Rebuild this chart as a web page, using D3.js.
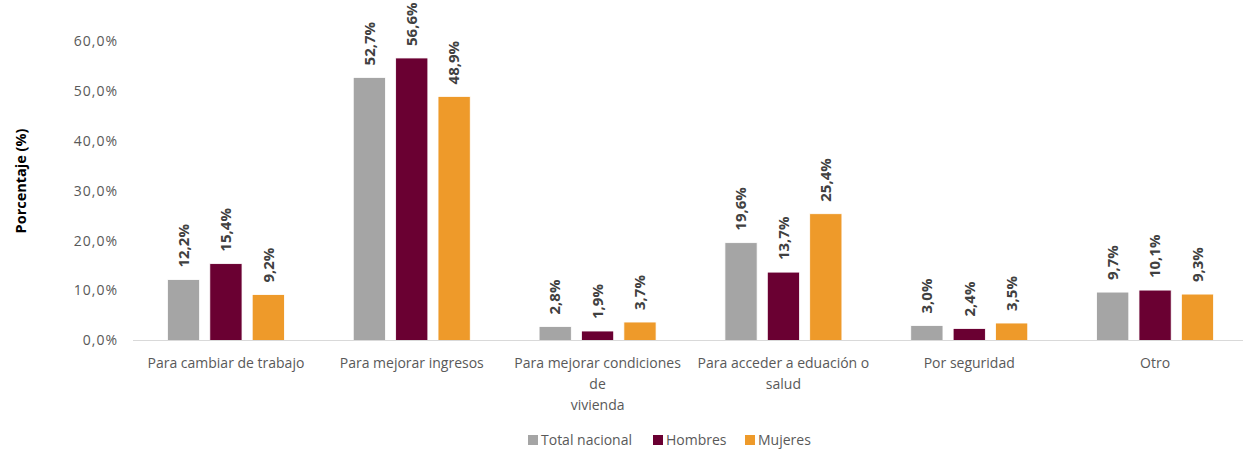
<!DOCTYPE html>
<html>
<head>
<meta charset="utf-8">
<script src="https://cdn.jsdelivr.net/npm/d3@7"></script>
<style>
  body { margin: 0; background: #fff; }
  svg { font-family: "Open Sans", "Noto Sans", sans-serif; }
</style>
</head>
<body>
<div id="vis"></div>
<script>
const categories = [
  ['Para cambiar de trabajo'],
  ['Para mejorar ingresos'],
  ['Para mejorar condiciones', 'de', 'vivienda'],
  ['Para acceder a eduación o', 'salud'],
  ['Por seguridad'],
  ['Otro']
];
const seriesNames = ['Total nacional', 'Hombres', 'Mujeres'];
const totalNacional = [12.2, 52.7, 2.8, 19.6, 3.0, 9.7];
const hombres = [15.4, 56.6, 1.9, 13.7, 2.4, 10.1];
const mujeres = [9.2, 48.9, 3.7, 25.4, 3.5, 9.3];
const yTicks = [0, 10, 20, 30, 40, 50, 60];
const colors = ['#A5A5A5', '#6A0032', '#EE9A2A'];

const width = 1243;
const height = 449;
const series = [totalNacional, hombres, mujeres];
const keys = categories.map(function (c) { return c.join(' '); });

const svg = d3.select('#vis')
  .append('svg')
    .attr('width', width)
    .attr('height', height);

const x0 = d3.scaleBand()
  .domain(keys)
  .range([133, 1248])
  .paddingInner(0);

const bw = x0.bandwidth();
const x1 = d3.scaleBand()
  .domain(seriesNames)
  .range([bw / 2 - 58.5, bw / 2 + 58.5])
  .paddingInner(0.24)
  .paddingOuter(0);

const y = d3.scaleLinear()
  .domain([0, 60])
  .range([340.5, 41]);

const fmt = function (v) { return d3.format('.1f')(v).replace('.', ',') + '%'; };

// y axis labels
svg.append('g')
  .selectAll('text')
  .data(yTicks)
  .join('text')
    .attr('x', 118)
    .attr('y', function (d) { return y(d); })
    .attr('dy', '0.35em')
    .attr('text-anchor', 'end')
    .attr('fill', '#595959')
    .attr('font-size', 14)
    .attr('letter-spacing', 1)
    .text(fmt);

svg.append('text')
  .attr('transform', 'translate(26, 181) rotate(-90)')
  .attr('text-anchor', 'middle')
  .attr('font-size', 14.5)
  .attr('font-weight', 'bold')
  .attr('fill', '#000')
  .text('Porcentaje (%)');

// bars
const groups = svg.append('g')
  .selectAll('g')
  .data(keys)
  .join('g')
    .attr('transform', function (d) { return 'translate(' + x0(d) + ',0)'; });

groups.each(function (k, i) {
  const g = d3.select(this);
  seriesNames.forEach(function (s, j) {
    const v = series[j][i];
    g.append('rect')
      .attr('x', x1(s))
      .attr('y', y(v))
      .attr('width', x1.bandwidth())
      .attr('height', y(0) - y(v))
      .attr('fill', colors[j])
      .attr('stroke', '#fff')
      .attr('stroke-width', 0.8);
    g.append('text')
      .attr('transform', 'translate(' + (x1(s) + x1.bandwidth() / 2) + ',' + (y(v) - 12) + ') rotate(-90)')
      .attr('dy', '0.35em')
      .attr('text-anchor', 'start')
      .attr('font-size', 15)
      .attr('font-weight', 'bold')
      .attr('fill', '#404040')
      .text(fmt(v));
  });
});

// baseline
svg.append('line')
  .attr('x1', 133)
  .attr('x2', 1248)
  .attr('y1', y(0))
  .attr('y2', y(0))
  .attr('stroke', '#D9D9D9')
  .attr('stroke-width', 1);

// category labels
groups.each(function (k, i) {
  const t = d3.select(this).append('text')
    .attr('text-anchor', 'middle')
    .attr('font-size', 14)
    .attr('fill', '#595959');
  categories[i].forEach(function (line, li) {
    t.append('tspan')
      .attr('x', bw / 2)
      .attr('y', 368 + li * 21)
      .text(line);
  });
});

// legend
const legendX = [528, 653, 745];
const legend = svg.append('g')
  .selectAll('g')
  .data(seriesNames)
  .join('g')
    .attr('transform', function (d, i) { return 'translate(' + legendX[i] + ',440)'; });

legend.append('rect')
  .attr('x', 0)
  .attr('y', -5)
  .attr('width', 10)
  .attr('height', 10)
  .attr('fill', function (d, i) { return colors[i]; });

legend.append('text')
  .attr('x', 13)
  .attr('dy', '0.35em')
  .attr('font-size', 14)
  .attr('fill', '#595959')
  .text(function (d) { return d; });
</script>
</body>
</html>
